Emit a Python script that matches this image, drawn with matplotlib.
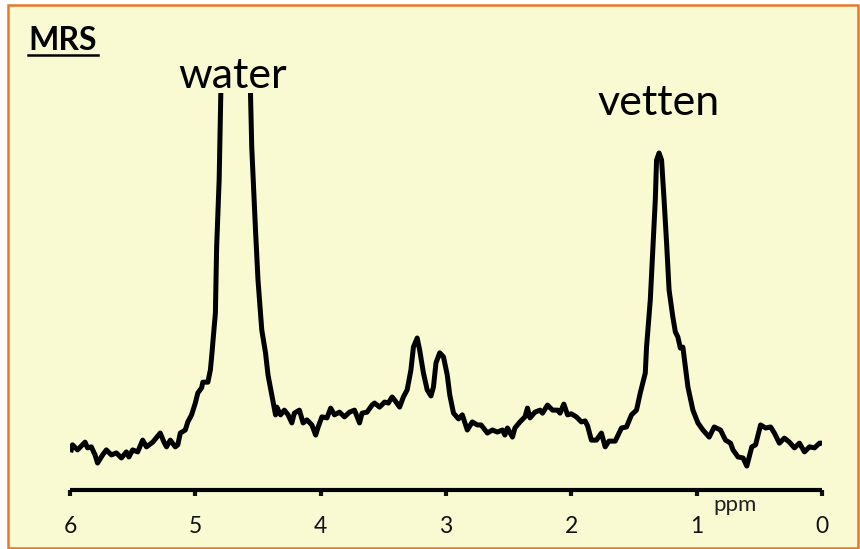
import matplotlib.pyplot as plt
from matplotlib.patches import Rectangle
from matplotlib.lines import Line2D

# MRS spectrum (ppm, arbitrary intensity, fat peak = 100)
ppm = [5.99, 5.98, 5.94, 5.88, 5.86, 5.83, 5.80, 5.78, 5.74, 5.71,
       5.67, 5.63, 5.59, 5.55, 5.53, 5.50, 5.46, 5.42, 5.39, 5.34,
       5.28, 5.25, 5.23, 5.20, 5.16, 5.14, 5.12, 5.08, 5.06, 5.03,
       5.00, 4.98, 4.95, 4.94, 4.90, 4.88, 4.87, 4.84, 4.83, 4.81,
       4.80, 4.78, 4.68, 4.57, 4.56, 4.55, 4.52, 4.50, 4.47, 4.44,
       4.42, 4.39, 4.36, 4.35, 4.32, 4.29, 4.26, 4.23, 4.21, 4.17,
       4.14, 4.11, 4.07, 4.04, 4.02, 3.99, 3.95, 3.92, 3.89, 3.85,
       3.81, 3.77, 3.73, 3.69, 3.67, 3.63, 3.59, 3.57, 3.53, 3.49,
       3.46, 3.43, 3.41, 3.37, 3.34, 3.31, 3.28, 3.26, 3.23, 3.21,
       3.18, 3.15, 3.12, 3.10, 3.08, 3.05, 3.02, 2.99, 2.97, 2.94,
       2.90, 2.87, 2.83, 2.79, 2.75, 2.72, 2.67, 2.63, 2.59, 2.55,
       2.53, 2.51, 2.47, 2.45, 2.41, 2.37, 2.35, 2.33, 2.29, 2.25,
       2.23, 2.19, 2.15, 2.11, 2.09, 2.06, 2.03, 2.00, 1.96, 1.92,
       1.89, 1.87, 1.84, 1.80, 1.76, 1.73, 1.70, 1.65, 1.60, 1.56,
       1.52, 1.48, 1.45, 1.41, 1.40, 1.37, 1.35, 1.33, 1.32, 1.30,
       1.28, 1.26, 1.24, 1.22, 1.19, 1.17, 1.15, 1.13, 1.11, 1.09,
       1.07, 1.03, 0.99, 0.95, 0.90, 0.86, 0.81, 0.77, 0.73, 0.71,
       0.67, 0.63, 0.60, 0.56, 0.53, 0.49, 0.45, 0.41, 0.38, 0.34,
       0.30, 0.26, 0.22, 0.18, 0.14, 0.10, 0.06, 0.02, 0.00]
signal = [11.9, 13.4, 11.9, 14.2, 12.5, 12.8, 10.4, 8.0, 10.4, 11.9,
          10.4, 11.0, 9.5, 11.3, 9.8, 11.9, 11.3, 14.8, 12.8, 14.2,
          16.9, 14.2, 12.8, 14.8, 12.8, 13.4, 16.9, 17.8, 20.2, 22.3,
          25.8, 28.8, 30.3, 32.0, 32.0, 35.6, 39.5, 52.5, 72.1, 92.0,
          111.9, 150.0, 230.0, 150.0, 117.8, 101.8, 77.2, 62.3, 47.5, 40.7,
          34.1, 28.2, 22.3, 24.6, 22.3, 23.7, 22.3, 19.9, 22.8, 23.7,
          19.9, 20.8, 19.3, 16.3, 18.7, 21.7, 21.4, 24.3, 22.3, 23.1,
          21.7, 23.1, 23.7, 19.9, 22.8, 23.1, 25.2, 25.8, 24.6, 26.1,
          25.8, 27.6, 26.7, 24.6, 27.6, 29.7, 35.6, 42.4, 45.1, 41.5,
          34.7, 29.7, 27.9, 30.6, 37.7, 40.7, 39.5, 34.1, 28.2, 22.8,
          21.1, 22.3, 17.8, 20.2, 19.3, 19.3, 16.9, 17.8, 17.2, 17.8,
          16.3, 18.4, 15.7, 18.4, 20.2, 21.7, 24.3, 21.4, 23.1, 23.7,
          22.8, 25.2, 23.7, 23.7, 22.8, 25.5, 22.3, 22.6, 21.7, 20.2,
          20.5, 19.0, 14.8, 14.8, 16.9, 12.8, 14.5, 14.5, 18.4, 18.7,
          22.3, 23.7, 28.8, 34.7, 42.4, 56.4, 71.2, 86.1, 97.9, 100.0,
          97.9, 86.1, 73.3, 59.3, 51.3, 46.9, 45.4, 42.1, 42.4, 36.5,
          30.6, 23.7, 19.9, 17.8, 15.7, 18.7, 17.8, 14.8, 13.9, 11.9,
          9.8, 9.5, 7.1, 12.8, 13.4, 19.3, 18.4, 18.7, 16.9, 13.9,
          15.4, 14.2, 12.5, 13.9, 11.3, 12.8, 12.5, 13.9, 13.9]

ticks = [6, 5, 4, 3, 2, 1, 0]
peak_labels = ['water', 'vetten']
peak_pos = [4.7, 1.3]
peak_text_y = [119.3, 111.3]

bg = '#fafad2'
plt.rcParams['font.family'] = ['Lato', 'DejaVu Sans']

fig = plt.figure(figsize=(8.6, 5.49), dpi=100)
fig.patch.set_facecolor('white')
fig.add_artist(Rectangle((8/860, 1/549), 850/860, 543/549, transform=fig.transFigure,
                         facecolor=bg, edgecolor='#e5782a', linewidth=1.8, zorder=-5))

ax = fig.add_axes([70/860, 1 - 490/549, 752/860, 397/549])
ax.set_facecolor('none')
ax.plot(ppm, signal, color='black', linewidth=3.6, solid_joinstyle='round')
ax.set_xlim(6, 0)
ax.set_ylim(0, 117.8)

for s in ['left', 'right', 'top']:
    ax.spines[s].set_visible(False)
ax.spines['bottom'].set_linewidth(3)
ax.spines['bottom'].set_capstyle('butt')
ax.set_yticks([])
ax.set_xticks(ticks)
ax.set_xticklabels([str(t) for t in ticks])
ax.tick_params(axis='x', direction='out', length=4.5, width=3, pad=14,
               labelsize=16.5, colors='#111111')

for lab, xp, yp in zip(peak_labels, peak_pos, peak_text_y):
    ax.text(xp, yp, lab, ha='center', va='baseline', fontsize=31)

ax.text(0.69, -1.5, 'ppm', ha='center', va='top', fontsize=16, color='#222222')

fig.text(28/860, 1 - 50/549, 'MRS', fontsize=23, fontweight='bold', ha='left', va='baseline')
fig.add_artist(Line2D([28/860, 98/860], [1 - 55/549, 1 - 55/549], color='black',
                      linewidth=1.8, transform=fig.transFigure))

fig.savefig('out.png', dpi=100, facecolor=fig.get_facecolor())
